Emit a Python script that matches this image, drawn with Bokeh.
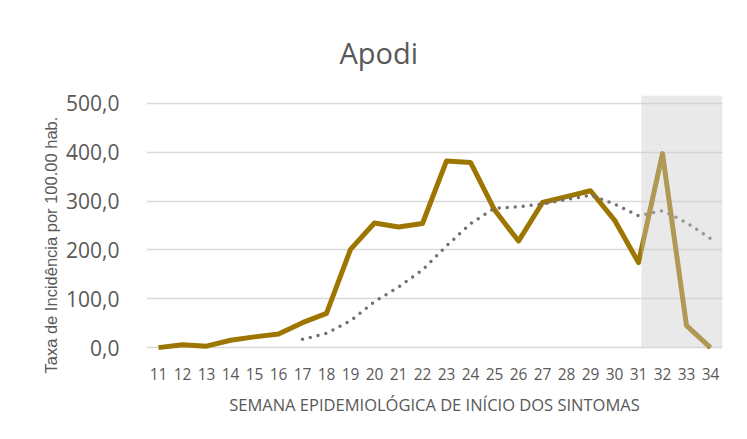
import math
from bokeh.plotting import figure
from bokeh.models import FixedTicker, Title
from bokeh.embed import file_html
from bokeh.resources import INLINE

# ---- data ----
weeks = list(range(11, 35))
week_labels = [str(w) for w in weeks]
incidence = [0, 6, 3, 15, 22, 28, 51, 70, 201, 255, 247, 254,
             382, 379, 282, 218, 297, 309, 321, 261, 174, 397, 45, 0]
moving_avg = [math.nan, math.nan, math.nan, math.nan, math.nan, math.nan,
              17, 29, 55, 94, 124, 159, 208, 254, 285, 288, 294, 303,
              312, 294, 270, 280, 256, 223]
y_ticks = [0, 100, 200, 300, 400, 500]
y_tick_labels = ["0,0", "100,0", "200,0", "300,0", "400,0", "500,0"]
shade_from = 31.12
shade_to = 34.5
shade_top = 516

title_text = "Apodi"
x_title = "SEMANA EPIDEMIOLÓGICA DE INÍCIO DOS SINTOMAS"
y_title = "Taxa de Incidência por 100.00 hab."

TXT = "#595959"

p = figure(width=739, height=431, x_range=(10.5, 34.5), y_range=(-10, 516),
           output_backend="svg", toolbar_location=None,
           min_border_left=146, min_border_right=17,
           min_border_top=95, min_border_bottom=79)
p.outline_line_color = None
p.background_fill_color = "white"
p.border_fill_color = "white"

# grid
p.xgrid.grid_line_color = None
p.ygrid.ticker = FixedTicker(ticks=y_ticks)
p.ygrid.grid_line_color = "#D9D9D9"
p.ygrid.grid_line_width = 1.5

# y axis
p.yaxis.ticker = FixedTicker(ticks=y_ticks)
p.yaxis.major_label_overrides = dict(zip(y_ticks, y_tick_labels))
p.yaxis.axis_line_color = None
p.yaxis.major_tick_line_color = None
p.yaxis.minor_tick_line_color = None
p.yaxis.major_label_text_font = "Open Sans"
p.yaxis.major_label_text_font_size = "21px"
p.yaxis.major_label_text_color = TXT
p.yaxis.major_label_standoff = 21

# x axis
p.xaxis.ticker = FixedTicker(ticks=weeks)
p.xaxis.major_label_overrides = dict(zip(weeks, week_labels))
p.xaxis.axis_line_color = None
p.xaxis.major_tick_line_color = None
p.xaxis.minor_tick_line_color = None
p.xaxis.major_label_text_font = "Open Sans"
p.xaxis.major_label_text_font_size = "15.5px"
p.xaxis.major_label_text_color = TXT
p.xaxis.major_label_standoff = 9
p.xaxis.axis_label = x_title
p.xaxis.axis_label_text_font = "Open Sans"
p.xaxis.axis_label_text_font_size = "16.5px"
p.xaxis.axis_label_text_font_style = "normal"
p.xaxis.axis_label_text_color = TXT
p.xaxis.axis_label_standoff = 10

# title
p.title.text = title_text
p.title.align = "left"
p.title.offset = 193
p.title.text_font = "Open Sans"
p.title.text_font_size = "29px"
p.title.text_font_style = "normal"
p.title.text_color = TXT
p.title.standoff = 47

# y axis title (placed in the left panel, outside the tick labels)
p.add_layout(Title(text=y_title, align="left", offset=-21,
                   text_font="Liberation Sans", text_font_size="16.5px",
                   text_font_style="normal", text_color=TXT, standoff=7),
             "left")

# lines
p.line(weeks, incidence, line_width=5, line_color="#9C7600", line_join="round")
p.line(weeks, moving_avg, line_width=3.5, line_color="#767171",
       line_dash="0 8", line_cap="round")

# highlighted (shaded) weeks, drawn over the lines
p.quad(left=[shade_from], right=[shade_to], bottom=[0], top=[shade_top],
       fill_color="#CACACA", fill_alpha=0.42, line_color=None)

open("out.html", "w").write(file_html(p, INLINE))
